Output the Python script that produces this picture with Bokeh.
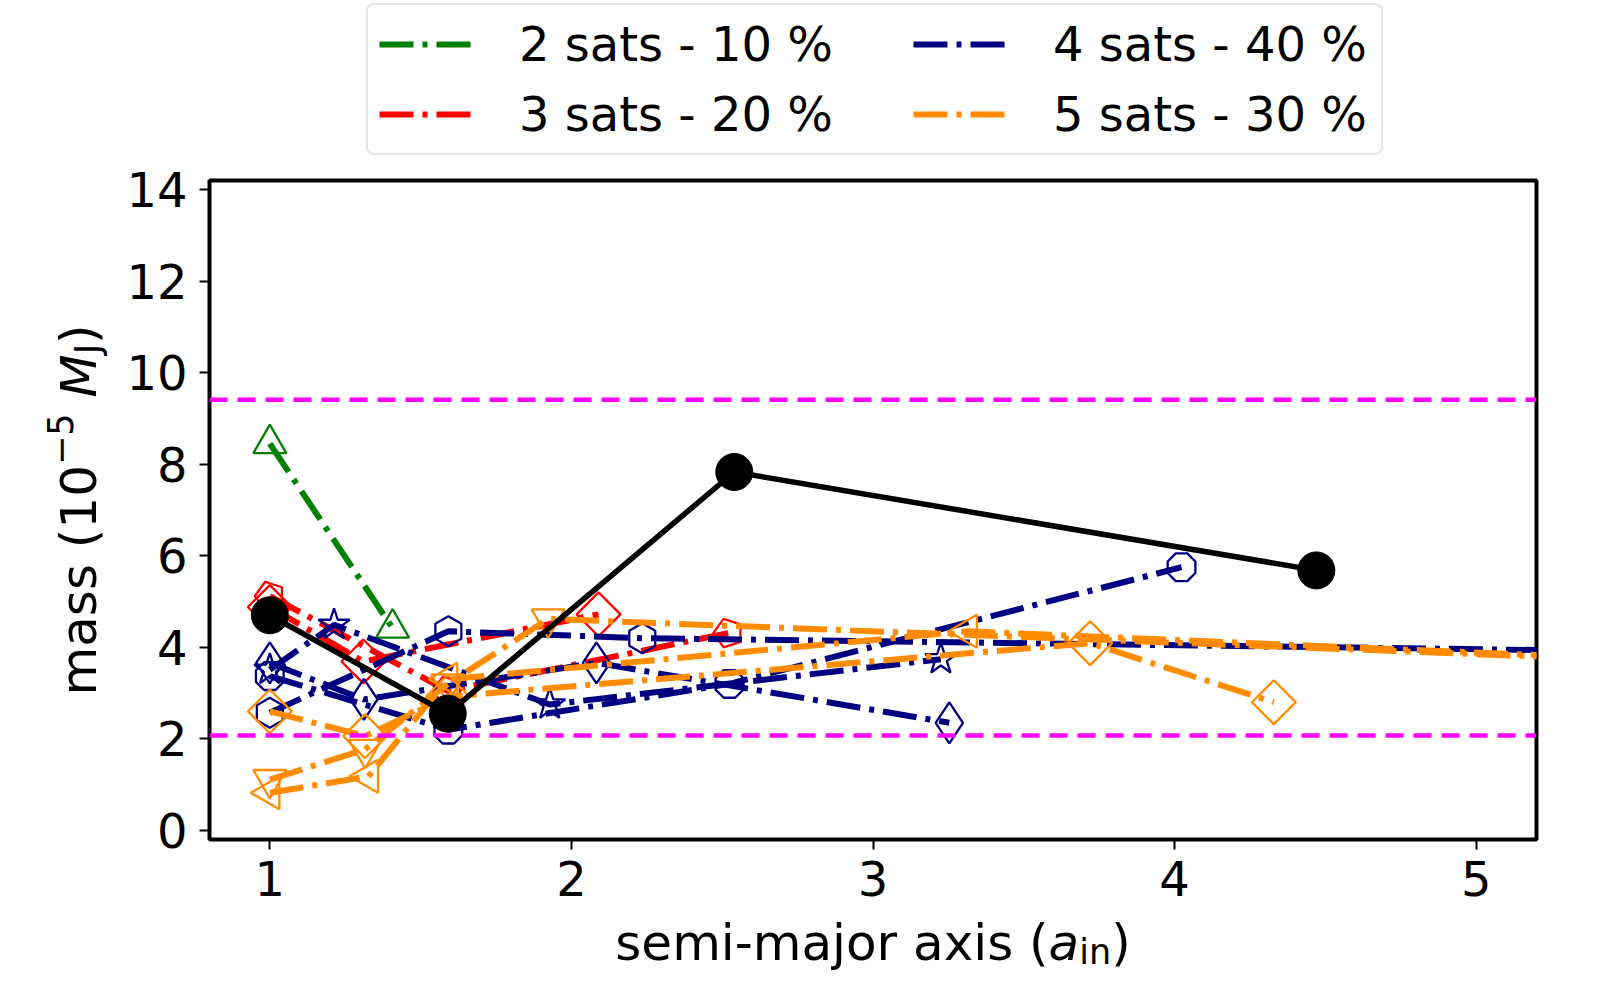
import math
from bokeh.plotting import figure
from bokeh.layouts import row, column
from bokeh.models import Range1d, FixedTicker, Span, Legend, LegendItem, Label
from bokeh.embed import file_html
from bokeh.resources import INLINE

# ---------------- data ----------------
# reference system: solid black line, filled circles
ref_a = [1.0, 1.59, 2.54, 4.47]
ref_m = [4.70, 2.55, 7.83, 5.68]

# 2 satellites (green)
s2_a = [[1.0, 1.407]]
s2_m = [[8.45, 4.42]]
s2_mk = ["triangle"]

# 3 satellites (red)
s3_a = [[1.0, 1.59, 2.52],
        [1.0, 1.31, 2.09]]
s3_m = [[5.12, 3.05, 4.31],
        [4.88, 3.69, 4.72]]
s3_mk = ["pentagon", "diamond_wide"]

# 4 satellites (navy)
s4_a = [[1.0, 1.213, 1.928, 3.225],
        [1.0, 1.312, 2.083, 3.253],
        [1.0, 1.592, 2.235, 6.0],
        [1.0, 1.592, 2.524, 4.023]]
s4_m = [[3.51, 4.49, 2.75, 3.74],
        [3.66, 2.86, 3.66, 2.35],
        [2.57, 4.35, 4.20, 3.87],
        [3.37, 2.20, 3.20, 5.75]]
s4_mk = ["star", "diamond_thin", "hexagon", "octagon"]

# 5 satellites (orange)
s5_a = [[1.0, 1.316, 1.59, 3.72, 4.329],
        [1.0, 1.316, 1.59, 1.923, 6.0],
        [1.0, 1.327, 1.59, 3.313, 6.0]]
s5_m = [[2.60, 2.06, 2.92, 4.09, 2.80],
        [1.11, 1.77, 3.20, 4.62, 3.60],
        [0.82, 1.18, 3.30, 4.35, 3.61]]
s5_mk = ["diamond_wide", "triangle_down", "triangle_left"]

mass_limits = [2.07, 9.41]

legend_labels = ["2 sats - 10 %", "3 sats - 20 %", "4 sats - 40 %", "5 sats - 30 %"]
colors = ["green", "red", "#000080", "#ff8c00"]
x_ticks = [1, 2, 3, 4, 5]
y_ticks = [0, 2, 4, 6, 8, 10, 12, 14]

# ---------------- geometry (page pixels) ----------------
FONT = "DejaVu Sans"
FS = 48
LFS = 50                    # axis-label font size
TOTAL_W, TOTAL_H = 1584, 984
YL_W = 120                  # strip holding the y label
COL_W = TOTAL_W - YL_W
LEG_H = 156                 # strip holding the legend
MAIN_H = 912 - LEG_H
XL_H = TOTAL_H - LEG_H - MAIN_H
FRAME_L, FRAME_R, FRAME_T, FRAME_B = 209, 1536, 180, 839

DASH = "34 9 5 9"
LW = 6


def bare_figure(w, h, far=False):
    rng = (100, 101) if far else (0, 1)
    f = figure(width=w, height=h, output_backend="svg", toolbar_location=None,
               x_axis_type=None, y_axis_type=None,
               x_range=Range1d(*rng), y_range=Range1d(*rng),
               min_border_left=0, min_border_right=0, min_border_top=0, min_border_bottom=0)
    f.outline_line_color = None
    f.grid.visible = False
    f.background_fill_color = "white"
    f.border_fill_color = "white"
    return f


# ---------------- main plot ----------------
p = figure(width=COL_W, height=MAIN_H, output_backend="svg", toolbar_location=None,
           x_range=Range1d(0.8, 5.2), y_range=Range1d(-0.2, 14.2),
           min_border_left=FRAME_L - YL_W,
           min_border_right=COL_W - (FRAME_R - YL_W),
           min_border_top=FRAME_T - LEG_H,
           min_border_bottom=MAIN_H - (FRAME_B - LEG_H))
p.background_fill_color = "white"
p.border_fill_color = "white"
p.grid.visible = False
p.outline_line_color = "black"
p.outline_line_width = 4

p.xaxis.ticker = FixedTicker(ticks=x_ticks)
p.yaxis.ticker = FixedTicker(ticks=y_ticks)
for ax in (p.xaxis[0], p.yaxis[0]):
    ax.axis_line_color = None
    ax.major_tick_line_color = "black"
    ax.major_tick_line_width = 2
    ax.major_tick_out = 10
    ax.major_tick_in = 0
    ax.minor_tick_line_color = None
    ax.major_label_text_font = FONT
    ax.major_label_text_font_size = f"{FS}px"
    ax.major_label_text_color = "black"
p.xaxis[0].major_label_standoff = 11
p.yaxis[0].major_label_standoff = 12


def draw_markers(xs, ys, kind, color):
    common = dict(fill_color=None, line_color=color, line_width=2.3)
    if kind == "triangle":
        p.scatter(xs, ys, marker="triangle", size=33, **common)
    elif kind == "triangle_down":
        p.scatter(xs, ys, marker="inverted_triangle", size=33, **common)
    elif kind == "triangle_left":
        p.scatter(xs, ys, marker="triangle", angle=math.pi / 2, size=33, **common)
    elif kind == "diamond_wide":
        p.scatter(xs, ys, marker="square", angle=math.pi / 4, size=31, **common)
    elif kind == "diamond_thin":
        p.scatter(xs, ys, marker="diamond", size=41, **common)
    elif kind == "star":
        p.scatter(xs, ys, marker="star", size=33, **common)
    elif kind == "hexagon":
        p.scatter(xs, ys, marker="hex", angle=math.pi / 2, size=30, **common)
    else:
        n = 5 if kind == "pentagon" else 8
        try:
            p.ngon(x=xs, y=ys, radius=15, radius_units="screen", n=n,
                   angle=math.pi / 2 if n == 5 else math.pi / 8, **common)
        except Exception:
            p.scatter(xs, ys, marker="hex", size=30, **common)


groups = [(s2_a, s2_m, s2_mk), (s3_a, s3_m, s3_mk), (s4_a, s4_m, s4_mk), (s5_a, s5_m, s5_mk)]
for (A, M, MK), color in zip(groups, colors):
    for xs, ys, mk in zip(A, M, MK):
        p.line(xs, ys, line_color=color, line_width=LW, line_dash=DASH)
        draw_markers(xs, ys, mk, color)

for lim in mass_limits:
    p.add_layout(Span(location=lim, dimension="width", line_color="#ff00ff",
                      line_width=4.5, line_dash="18 10"))

p.line(ref_a, ref_m, line_color="black", line_width=5.5)
p.scatter(ref_a, ref_m, marker="circle", size=37, fill_color="black", line_color="black")

# ---------------- legend strip (frame shares the main plot's left edge) ----------------
fl = bare_figure(COL_W, LEG_H, far=True)
# legend proxies: each colour's first series, drawn far outside this strip's view
proxies = [fl.line(G[0][0], G[1][0], line_color=c, line_width=LW, line_dash=DASH)
           for G, c in zip(groups, colors)]
PAD = 11
GW, STANDOFF = 100, 40
leg_common = dict(label_text_font=FONT, label_text_font_size=f"{FS}px",
                  label_text_color="black", glyph_width=GW, glyph_height=20,
                  label_height=20, label_standoff=STANDOFF, spacing=14, padding=PAD,
                  margin=0)
box_left, box_right, box_bottom = 366, 1379, 155
leg1 = Legend(items=[LegendItem(label=legend_labels[0], renderers=[proxies[0]]),
                     LegendItem(label=legend_labels[1], renderers=[proxies[1]])],
              location=(box_left - FRAME_L, LEG_H - box_bottom),
              label_width=(box_right - box_left) - GW - STANDOFF - 2 * PAD,
              border_line_color="#cccccc", border_line_width=2.5,
              background_fill_color="white", background_fill_alpha=1.0, **leg_common)
try:
    leg1.border_radius = 8
except Exception:
    pass
col2_text = 1053
leg2 = Legend(items=[LegendItem(label=legend_labels[2], renderers=[proxies[2]]),
                     LegendItem(label=legend_labels[3], renderers=[proxies[3]])],
              location=(col2_text - STANDOFF - GW - PAD - FRAME_L + 11, LEG_H - box_bottom + 13),
              border_line_color=None, background_fill_alpha=0.0, **leg_common)
fl.add_layout(leg1, "center")
fl.add_layout(leg2, "center")

# ---------------- axis labels built from pieces ----------------
ADV = {' ': 651, '(': 799, ')': 799, '-': 739, '%': 1946, 'a': 1255, 'e': 1260,
       'i': 569, 'j': 569, 'm': 1995, 'n': 1298, 'o': 1253, 'r': 842, 's': 1067,
       't': 803, 'x': 1212, 'M': 1767, 'J': 604, '\u2212': 1716}
for d in "0123456789":
    ADV[d] = 1303


def tw(s, size):
    return sum(ADV.get(c, 1200) for c in s) / 2048.0 * size


# x label strip: semi-major axis (a_in)
fx = bare_figure(COL_W, XL_H)
xl_parts = [("semi-major axis (", LFS, "normal", 0), ("a", LFS, "italic", 0),
            ("in", LFS * 0.7, "normal", -9), (")", LFS, "normal", 0)]
total = sum(tw(t, s) for t, s, _, _ in xl_parts)
X = (FRAME_L + FRAME_R) / 2 - total / 2
XBASE = 942
for t, s, st, dy in xl_parts:
    fx.add_layout(Label(x=X - FRAME_L, y=(TOTAL_H - XBASE) + dy, x_units="screen", y_units="screen",
                        text=t, text_font=FONT, text_font_size=f"{s:.1f}px", text_font_style=st,
                        text_color="black", text_align="left", text_baseline="alphabetic"))
    X += tw(t, s)

# y label strip: mass (10^-5 M_J)
fy = bare_figure(YL_W, TOTAL_H)
yl_parts = [("mass (10", LFS, "normal", 0, 0), ("\u22125", LFS * 0.7, "normal", 19, 0),
            ("M", LFS, "italic", 0, 16), ("J", LFS * 0.7, "normal", -9, 0),
            (")", LFS, "normal", 0, 0)]
total = sum(tw(t, s) + g for t, s, _, _, g in yl_parts)
Y = (FRAME_T + FRAME_B) / 2 + total / 2
YBASE = 78
for t, s, st, dy, g in yl_parts:
    Y -= g
    fy.add_layout(Label(x=YBASE - dy, y=TOTAL_H - Y, x_units="screen", y_units="screen",
                        text=t, angle=math.pi / 2, text_font=FONT, text_font_size=f"{s:.1f}px",
                        text_font_style=st, text_color="black", text_align="left",
                        text_baseline="alphabetic"))
    Y -= tw(t, s)

layout = row(fy, column(fl, p, fx))
open("out.html", "w").write(file_html(layout, INLINE))
